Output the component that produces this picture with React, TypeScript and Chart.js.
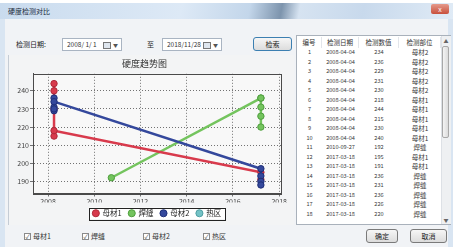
import React, { useEffect, useRef } from "react";
import { Chart, registerables } from "chart.js";

Chart.register(...registerables);

const FONT = '"Noto Sans CJK SC", "Noto Sans", sans-serif';

const windowTitle = "硬度检测对比";
const chartTitle = "硬度趋势图";
const seriesNames = ["母材1", "焊缝", "母材2", "热区"];
const seriesColors = ["#d83a4c", "#74c45e", "#34489c", "#74c2c6"];
const seriesEdge = ["#b02a3a", "#4f9f3e", "#1f2f78", "#4f9fa3"];

// inspection dates as decimal years
const base1Years = [2008.26, 2008.26, 2008.26, 2008.26, 2008.26, 2017.21, 2017.21];
const base1Values = [244, 240, 230, 215, 218, 195, 191];
const weldYears = [2010.74, 2017.21, 2017.21, 2017.21, 2017.21, 2017.21];
const weldValues = [192, 236, 231, 236, 226, 220];
const base2Years = [2008.26, 2008.26, 2008.26, 2008.26, 2008.26, 2017.21, 2017.21, 2017.21, 2017.21];
const base2Values = [236, 229, 231, 230, 234, 197, 193, 190, 188];
const hazYears: number[] = [];
const hazValues: number[] = [];

const xTickValues = [2008, 2010, 2012, 2014, 2016, 2018];
const yTickValues = [190, 200, 210, 220, 230, 240];
const xRange = [2007.35, 2018.08];
const yRange = [183.3, 249.4];

const tableHeaders = ["编号", "检测日期", "检测数值", "检测部位"];
const rowDates = [
  "2008-04-04", "2008-04-04", "2008-04-04", "2008-04-04", "2008-04-04",
  "2008-04-04", "2008-04-04", "2008-04-04", "2008-04-04", "2008-04-04",
  "2010-09-27", "2017-03-18", "2017-03-18", "2017-03-18", "2017-03-18",
  "2017-03-18", "2017-03-18", "2017-03-18",
];
const rowValues = [234, 236, 229, 231, 230, 218, 244, 215, 230, 240, 192, 195, 191, 236, 231, 236, 226, 220];
const rowParts = [
  "母材2", "母材2", "母材2", "母材2", "母材2",
  "母材1", "母材1", "母材1", "母材1", "母材1",
  "焊缝", "母材1", "母材1", "焊缝", "焊缝", "焊缝", "焊缝", "焊缝",
];

const dateLabel = "检测日期:";
const dateFrom = "2008/ 1/ 1";
const dateTo = "2018/11/28";
const toLabel = "至";
const searchLabel = "检索";
const okLabel = "确定";
const cancelLabel = "取消";

const toPoints = (xs: number[], ys: number[]) => xs.map((x, i) => ({ x, y: ys[i] }));
const seriesData = [
  toPoints(base1Years, base1Values),
  toPoints(weldYears, weldValues),
  toPoints(base2Years, base2Values),
  toPoints(hazYears, hazValues),
];
const drawOrder = [1, 2, 0, 3];

function legendBounds(chart: any) {
  const hb = chart.legend && chart.legend.legendHitBoxes;
  if (!hb || !hb.length) return null;
  const l = Math.min(...hb.map((h: any) => h.left)) - 4;
  const r = Math.max(...hb.map((h: any) => h.left + h.width)) + 4;
  const t = hb[0].top - 2;
  const b = hb[0].top + hb[0].height + 2;
  return { l, r, t, b };
}

const framePlugin = {
  id: "frame",
  beforeDraw(chart: any) {
    const { ctx, chartArea } = chart;
    ctx.save();
    ctx.fillStyle = "#f8f8f8";
    ctx.fillRect(chartArea.left, chartArea.top, chartArea.right - chartArea.left, chartArea.bottom - chartArea.top);
    const lb = legendBounds(chart);
    if (lb) {
      ctx.fillStyle = "#ffffff";
      ctx.fillRect(lb.l, lb.t, lb.r - lb.l, lb.b - lb.t);
    }
    ctx.restore();
  },
  afterDraw(chart: any) {
    const { ctx, chartArea } = chart;
    ctx.save();
    ctx.strokeStyle = "#4a4a4a";
    ctx.lineWidth = 1;
    ctx.strokeRect(
      Math.round(chartArea.left) + 0.5,
      Math.round(chartArea.top) + 0.5,
      Math.round(chartArea.right - chartArea.left),
      Math.round(chartArea.bottom - chartArea.top)
    );
    const lb = legendBounds(chart);
    if (lb) {
      ctx.strokeStyle = "#222";
      ctx.strokeRect(Math.round(lb.l) + 0.5, Math.round(lb.t) + 0.5, Math.round(lb.r - lb.l), Math.round(lb.b - lb.t));
    }
    ctx.restore();
  },
};

function ChartPanel() {
  const ref = useRef<HTMLCanvasElement>(null);
  useEffect(() => {
    const chart = new Chart(ref.current as HTMLCanvasElement, {
      type: "line",
      data: {
        datasets: seriesNames.map((name, i) => ({
          label: name,
          data: seriesData[i],
          order: drawOrder[i],
          borderColor: seriesColors[i],
          backgroundColor: seriesColors[i],
          pointBackgroundColor: seriesColors[i],
          pointBorderColor: seriesEdge[i],
          pointBorderWidth: 1,
          pointRadius: 3.2,
          borderWidth: 2.5,
          tension: 0,
          fill: false,
        })),
      },
      options: {
        animation: false,
        responsive: false,
        layout: { padding: { left: 0, right: 13, top: 0, bottom: 0 } },
        plugins: {
          tooltip: { enabled: false },
          title: {
            display: true,
            text: chartTitle,
            color: "#333",
            font: { family: FONT, size: 9, weight: "normal" },
            padding: { top: 3, bottom: 5 },
          },
          legend: {
            display: true,
            position: "bottom",
            fullSize: false,
            labels: {
              usePointStyle: true,
              pointStyle: "circle",
              boxWidth: 6,
              boxHeight: 5,
              padding: 7,
              color: "#222",
              font: { family: FONT, size: 7.5 },
              generateLabels: (c: any) =>
                c.data.datasets.map((d: any, i: number) => ({
                  text: d.label,
                  fillStyle: seriesColors[i],
                  strokeStyle: seriesEdge[i],
                  lineWidth: 1,
                  pointStyle: "circle",
                  hidden: false,
                  datasetIndex: i,
                  fontColor: "#222",
                })),
            },
          },
        },
        scales: {
          x: {
            type: "linear",
            min: xRange[0],
            max: xRange[1],
            afterBuildTicks: (s: any) => {
              s.ticks = xTickValues.map((v) => ({ value: v }));
            },
            afterFit: (s: any) => {
              s.height = 9;
            },
            ticks: {
              padding: 1,
              color: "#444",
              font: { family: FONT, size: 7 },
              maxRotation: 0,
              autoSkip: false,
              callback: (v: any) => String(v),
            },
            grid: { color: "rgba(70,70,70,0.75)", tickLength: 3, lineWidth: 1 },
            border: { display: true, color: "#4a4a4a", dash: [1, 2] },
          },
          y: {
            type: "linear",
            min: yRange[0],
            max: yRange[1],
            afterBuildTicks: (s: any) => {
              s.ticks = yTickValues.map((v) => ({ value: v }));
            },
            afterFit: (s: any) => {
              s.width = 25;
            },
            ticks: {
              padding: 1,
              color: "#444",
              font: { family: FONT, size: 7 },
              autoSkip: false,
              callback: (v: any) => String(v),
            },
            grid: { color: "rgba(70,70,70,0.75)", tickLength: 3, lineWidth: 1 },
            border: { display: true, color: "#4a4a4a", dash: [1, 2] },
          },
        },
      },
      plugins: [framePlugin],
    } as any);
    return () => chart.destroy();
  }, []);
  return (
    <canvas
      ref={ref}
      width={286}
      height={172}
      style={{ position: "absolute", left: 8, top: 55, width: 286, height: 172 }}
    />
  );
}

const btnStyle: React.CSSProperties = {
  position: "absolute",
  border: "1px solid #7a7a7a",
  borderRadius: 3,
  background: "linear-gradient(#f6f6f6, #dcdcdc)",
  fontSize: 7,
  color: "#222",
  display: "flex",
  alignItems: "center",
  justifyContent: "center",
  boxSizing: "border-box",
};

function DateBox({ left, text }: { left: number; text: string }) {
  return (
    <div
      style={{
        position: "absolute",
        left,
        top: 38,
        width: 60,
        height: 13,
        border: "1px solid #a9b4c2",
        background: "#fff",
        boxSizing: "border-box",
        fontSize: 6.5,
        color: "#333",
        lineHeight: "11px",
        paddingLeft: 4,
      }}
    >
      {text}
      <span
        style={{
          position: "absolute",
          right: 10,
          top: 3,
          width: 6,
          height: 5,
          border: "1px solid #777",
          background: "#dfe6ee",
        }}
      />
      <span style={{ position: "absolute", right: 3, top: 0, fontSize: 5, color: "#555" }}>▼</span>
    </div>
  );
}

function CheckItem({ left, text }: { left: number; text: string }) {
  return (
    <div style={{ position: "absolute", left, top: 231, height: 10, display: "flex", alignItems: "center", fontSize: 7, color: "#333" }}>
      <span
        style={{
          width: 7,
          height: 7,
          border: "1px solid #8a8a8a",
          background: "#fff",
          boxSizing: "border-box",
          fontSize: 6,
          lineHeight: "6px",
          textAlign: "center",
          color: "#444",
          marginRight: 2,
        }}
      >
        ✓
      </span>
      {text}
    </div>
  );
}

export default function App() {
  const colX = [297, 322, 359, 399, 441];
  const rowH = 9.5;
  return (
    <div
      style={{
        position: "fixed",
        left: 0,
        top: 0,
        width: 453,
        height: 247,
        overflow: "hidden",
        background: "#d9e5f2",
        fontFamily: FONT,
      }}
    >
      {/* title bar */}
      <div
        style={{
          position: "absolute",
          left: 0,
          top: 3,
          width: 453,
          height: 16,
          background:
            "linear-gradient(100deg, #c9dbee 0%, #dde9f6 40%, #c3d6ea 55%, #7d94ad 62%, #d6e3f1 66%, #c8d9ec 80%, #e0ebf6 100%)",
        }}
      />
      <div style={{ position: "absolute", left: 0, top: 0, width: 453, height: 3, background: "#fff" }} />
      <div style={{ position: "absolute", left: 8, top: 6, fontSize: 7, color: "#1a2a3a" }}>{windowTitle}</div>
      <div
        style={{
          position: "absolute",
          left: 431,
          top: 4,
          width: 18,
          height: 10,
          background: "linear-gradient(#e59a8c, #c8503c)",
          borderRadius: 2,
          color: "#fff",
          fontSize: 7,
          lineHeight: "10px",
          textAlign: "center",
        }}
      >
        x
      </div>
      {/* client area */}
      <div style={{ position: "absolute", left: 5, top: 19, width: 443, height: 228, background: "#f1f3f6" }} />

      {/* search row */}
      <div style={{ position: "absolute", left: 16, top: 39, fontSize: 7, color: "#222" }}>{dateLabel}</div>
      <DateBox left={62} text={dateFrom} />
      <div style={{ position: "absolute", left: 147, top: 39, fontSize: 7, color: "#222" }}>{toLabel}</div>
      <DateBox left={162} text={dateTo} />
      <div style={{ ...btnStyle, left: 253, top: 37, width: 39, height: 14, border: "1px solid #3c7fb1" }}>{searchLabel}</div>

      {/* chart panel */}
      <div
        style={{
          position: "absolute",
          left: 8,
          top: 55,
          width: 286,
          height: 170,
          background: "#f3f4f5",
          borderLeft: "1px solid #c5ccd5",
          boxSizing: "border-box",
        }}
      />
      <ChartPanel />

      {/* table */}
      <div
        style={{
          position: "absolute",
          left: 296,
          top: 35,
          width: 155,
          height: 190,
          background: "#fff",
          border: "1px solid #a9b1bb",
          boxSizing: "border-box",
        }}
      />
      {tableHeaders.map((h, i) => (
        <div
          key={h}
          style={{
            position: "absolute",
            left: colX[i],
            top: 37,
            width: colX[i + 1] - colX[i],
            height: 11,
            fontSize: 6.5,
            lineHeight: "11px",
            textAlign: "center",
            color: "#333",
            borderRight: "1px solid #e2e5ea",
            boxSizing: "border-box",
          }}
        >
          {h}
        </div>
      ))}
      {rowDates.map((d, r) => {
        const top = 48 + r * rowH;
        const cells = [String(r + 1), d, String(rowValues[r]), rowParts[r]];
        return cells.map((c, i) => (
          <div
            key={r + "-" + i}
            style={{
              position: "absolute",
              left: colX[i],
              top,
              width: colX[i + 1] - colX[i],
              height: rowH,
              fontSize: i === 3 ? 6.5 : 5.6,
              lineHeight: rowH + "px",
              textAlign: "center",
              color: "#3a3a3a",
            }}
          >
            {c}
          </div>
        ));
      })}
      {/* scrollbar */}
      <div style={{ position: "absolute", left: 441, top: 36, width: 9, height: 188, background: "#eef0f2", borderLeft: "1px solid #dde1e6" }} />
      <div style={{ position: "absolute", left: 442, top: 37, width: 8, fontSize: 5, color: "#666", textAlign: "center" }}>▲</div>
      <div style={{ position: "absolute", left: 442, top: 216, width: 8, fontSize: 5, color: "#666", textAlign: "center" }}>▼</div>
      <div
        style={{
          position: "absolute",
          left: 442,
          top: 46,
          width: 7,
          height: 92,
          background: "linear-gradient(90deg, #f4f4f4, #dcdcdc)",
          border: "1px solid #a8a8a8",
          borderRadius: 2,
          boxSizing: "border-box",
        }}
      />

      {/* bottom */}
      {seriesNames.map((n, i) => (
        <CheckItem key={n} left={[24, 82, 143, 203][i]} text={n} />
      ))}
      <div style={{ ...btnStyle, left: 366, top: 229, width: 32, height: 14 }}>{okLabel}</div>
      <div style={{ ...btnStyle, left: 410, top: 229, width: 37, height: 14 }}>{cancelLabel}</div>
    </div>
  );
}
